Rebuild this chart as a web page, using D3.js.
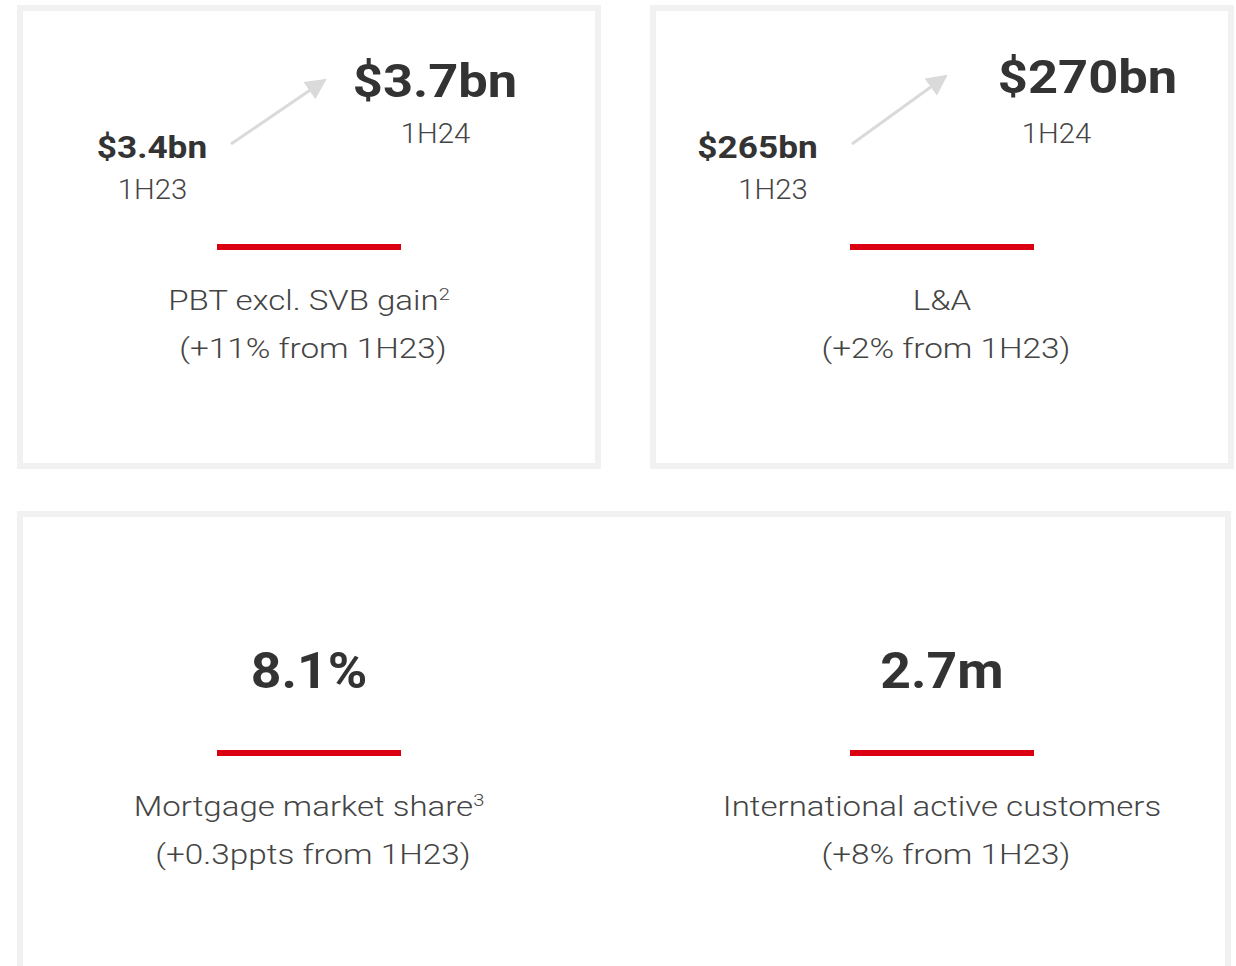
<!DOCTYPE html>
<html>
<head>
<meta charset="utf-8">
<script src="https://cdn.jsdelivr.net/npm/d3@7"></script>
<style>
  body { margin: 0; background: #fff; }
  text { font-family: Roboto, "Noto Sans", sans-serif; }
</style>
</head>
<body>
<div id="chart"></div>
<script>
var labels = ["PBT excl. SVB gain", "L&A", "Mortgage market share", "International active customers"];
var notes = ["2", "", "3", ""];
var changes = ["(+11% from 1H23)", "(+2% from 1H23)", "(+0.3ppts from 1H23)", "(+8% from 1H23)"];
var current = ["$3.7bn", "$270bn", "8.1%", "2.7m"];
var prior = ["$3.4bn", "$265bn"];
var periods = ["1H23", "1H24"];

var width = 1236, height = 966;
var svg = d3.select("#chart").append("svg")
  .attr("width", width).attr("height", height);

// the original face is wider than Roboto, so widen each string a bit
function stretch(t, k) {
  var len = t.node().getComputedTextLength();
  t.attr("textLength", len * k).attr("lengthAdjust", "spacingAndGlyphs");
  return t;
}

// column centres
var col = d3.scalePoint().domain([0, 1]).range([309, 942]);

// card frames
svg.append("g").selectAll("rect")
  .data([[17, 5, 584, 464], [650, 5, 584, 464], [17, 511, 1214, 600]])
  .enter().append("rect")
  .attr("x", d => d[0] + 3).attr("y", d => d[1] + 3)
  .attr("width", d => d[2] - 6).attr("height", d => d[3] - 6)
  .attr("fill", "none").attr("stroke", "#f1f1f1").attr("stroke-width", 6);

svg.append("defs").append("marker").attr("id", "head")
  .attr("viewBox", "0 0 10 10").attr("refX", 9).attr("refY", 5)
  .attr("markerWidth", 7).attr("markerHeight", 7).attr("orient", "auto")
  .attr("markerUnits", "strokeWidth")
  .append("path").attr("d", "M0,0L10,5L0,10z").attr("fill", "#dadada");

// top row: prior -> current
var topLayout = [
  { prior: -157, p0: -156.5, a0: [-78, 144], a1: [16, 80], cur: 126, p1: 126.5, curY: 97 },
  { prior: -184.5, p0: -169, a0: [-90, 144], a1: [4, 76], cur: 145.5, p1: 114.5, curY: 93 }
];

prior.forEach(function(v, i) {
  var cx = col(i), L = topLayout[i];
  var g = svg.append("g");
  stretch(g.append("text").attr("x", cx + L.prior).attr("y", 158).attr("text-anchor", "middle")
    .attr("font-size", 32).attr("font-weight", 700).attr("fill", "#333").text(v), 1.1);
  stretch(g.append("text").attr("x", cx + L.p0).attr("y", 199).attr("text-anchor", "middle")
    .attr("font-size", 28).attr("font-weight", 300).attr("fill", "#444").text(periods[0]), 1.045);
  g.append("line").attr("x1", cx + L.a0[0]).attr("y1", L.a0[1])
    .attr("x2", cx + L.a1[0]).attr("y2", L.a1[1])
    .attr("stroke", "#dadada").attr("stroke-width", 3).attr("marker-end", "url(#head)");
  stretch(g.append("text").attr("x", cx + L.cur).attr("y", L.curY).attr("text-anchor", "middle")
    .attr("font-size", 46).attr("font-weight", 700).attr("fill", "#333").text(current[i]), 1.14);
  stretch(g.append("text").attr("x", cx + L.p1).attr("y", 143).attr("text-anchor", "middle")
    .attr("font-size", 28).attr("font-weight", 300).attr("fill", "#444").text(periods[1]), 1.045);
});

// bottom row: single value
[2, 3].forEach(function(k, j) {
  stretch(svg.append("text").attr("x", col(j)).attr("y", 688).attr("text-anchor", "middle")
    .attr("font-size", 50).attr("font-weight", 700).attr("fill", "#333").text(current[k]), 1.07);
});

// red rules + labels
labels.forEach(function(lab, k) {
  var cx = col(k % 2), base = k < 2 ? 0 : 506;
  svg.append("line").attr("x1", cx - 92).attr("x2", cx + 92)
    .attr("y1", 247 + base).attr("y2", 247 + base)
    .attr("stroke", "#db0011").attr("stroke-width", 6);
  var t = svg.append("text").attr("x", cx).attr("y", 310 + base).attr("text-anchor", "middle")
    .attr("font-size", 28).attr("font-weight", 300).attr("fill", "#444");
  t.append("tspan").text(lab);
  if (notes[k]) t.append("tspan").attr("font-size", 17).attr("dy", -10).text(notes[k]);
  stretch(t, 1.18);
  stretch(svg.append("text").attr("x", cx + 4).attr("y", 358 + base).attr("text-anchor", "middle")
    .attr("font-size", 28).attr("font-weight", 300).attr("fill", "#444").text(changes[k]), 1.19);
});
</script>
</body>
</html>
